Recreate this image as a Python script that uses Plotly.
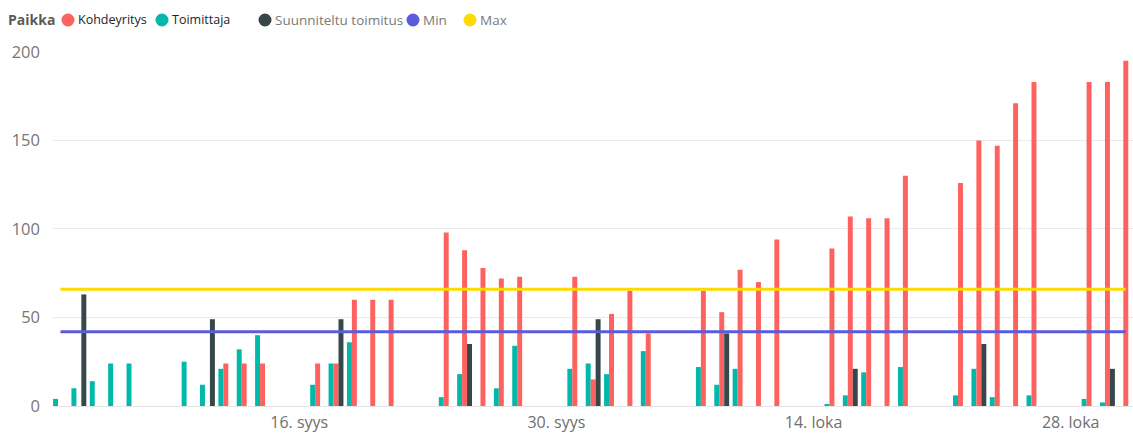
import datetime as dt
import plotly.graph_objects as go

# Working days shown on the axis
DATES = [
    "2018-09-03", "2018-09-04", "2018-09-05", "2018-09-06", "2018-09-07",
    "2018-09-10", "2018-09-11", "2018-09-12", "2018-09-13", "2018-09-14",
    "2018-09-17", "2018-09-18", "2018-09-19", "2018-09-20", "2018-09-21",
    "2018-09-24", "2018-09-25", "2018-09-26", "2018-09-27", "2018-09-28",
    "2018-10-01", "2018-10-02", "2018-10-03", "2018-10-04", "2018-10-05",
    "2018-10-08", "2018-10-09", "2018-10-10", "2018-10-11", "2018-10-12",
    "2018-10-15", "2018-10-16", "2018-10-17", "2018-10-18", "2018-10-19",
    "2018-10-22", "2018-10-23", "2018-10-24", "2018-10-25", "2018-10-26",
    "2018-10-29", "2018-10-30", "2018-10-31",
]

TOIMITTAJA = [
    4, 10, 14, 24, 24,
    25, 12, 21, 32, 40,
    12, 24, 36, None, None,
    5, 18, None, 10, 34,
    21, 24, 18, None, 31,
    22, 12, 21, None, None,
    1, 6, 19, None, 22,
    6, 21, 5, None, 6,
    4, 2, None,
]

KOHDEYRITYS = [
    None, None, None, None, None,
    None, None, 24, 24, 24,
    24, 24, 60, 60, 60,
    98, 88, 78, 72, 73,
    73, 15, 52, 65, 41,
    65, 53, 77, 70, 94,
    89, 107, 106, 106, 130,
    126, 150, 147, 171, 183,
    183, 183, 195,
]

SUUNNITELTU = [
    None, 63, None, None, None,
    None, 49, None, None, None,
    None, 49, None, None, None,
    None, 35, None, None, None,
    None, 49, None, None, None,
    None, 41, None, None, None,
    None, 21, None, None, None,
    None, 35, None, None, None,
    None, 21, None,
]

MIN_VALUE = 42
MAX_VALUE = 66

TICK_DATES = ["2018-09-16", "2018-09-30", "2018-10-14", "2018-10-28"]
TICK_TEXT = ["16. syys", "30. syys", "14. loka", "28. loka"]

C_KOHDE = "#FD625E"
C_TOIM = "#01B8AA"
C_SUUN = "#374649"
C_MIN = "#5B5BDE"
C_MAX = "#FFDA00"

FONT = "Open Sans, Segoe UI, sans-serif"
W, H = 1133, 433
ML, MR, MT, MB = 53, 0, 51, 27

fig = go.Figure()
fig.add_bar(x=DATES, y=TOIMITTAJA, name="Toimittaja", marker_color=C_TOIM)
fig.add_bar(x=DATES, y=KOHDEYRITYS, name="Kohdeyritys", marker_color=C_KOHDE)
fig.add_bar(x=DATES, y=SUUNNITELTU, name="Suunniteltu toimitus", marker_color=C_SUUN)
fig.add_scatter(x=DATES, y=[MIN_VALUE] * len(DATES), name="Min", mode="lines",
                line=dict(color=C_MIN, width=3))
fig.add_scatter(x=DATES, y=[MAX_VALUE] * len(DATES), name="Max", mode="lines",
                line=dict(color=C_MAX, width=3))
fig.update_traces(showlegend=False)
fig.update_traces(marker_line_width=0, selector=dict(type="bar"))

first = dt.datetime.fromisoformat(DATES[0])
last = dt.datetime.fromisoformat(DATES[-1])
x_range = [first - dt.timedelta(hours=9.8), last + dt.timedelta(hours=9.4)]

fig.update_layout(
    width=W, height=H,
    margin=dict(l=ML, r=MR, t=MT, b=MB, pad=0),
    paper_bgcolor="white", plot_bgcolor="white",
    barmode="group", bargap=0.19, bargroupgap=0,
    font=dict(family=FONT, size=15, color="#777777"),
    xaxis=dict(type="date", range=x_range, tickvals=TICK_DATES, ticktext=TICK_TEXT,
               showgrid=False, zeroline=False, showline=False, ticks="",
               ticklabelstandoff=5, tickfont=dict(size=16, color="#6f6f6f")),
    yaxis=dict(range=[0, 200.5], tickvals=[0, 50, 100, 150, 200],
               showgrid=True, gridcolor="#EAEAEA", gridwidth=1,
               zeroline=True, zerolinecolor="#E4E4E4", zerolinewidth=1,
               showline=False, ticks="", ticklabelstandoff=12,
               tickfont=dict(size=16.5, color="#777777")),
)

# Legend row drawn above the plot area
plot_w = W - ML - MR
plot_h = H - MT - MB


def px_x(px):
    return (px - ML) / plot_w


def px_y(py):
    return (H - MB - py) / plot_h


legend_y = 20
fig.add_annotation(x=px_x(7), y=px_y(legend_y), xref="paper", yref="paper",
                   text="<b>Paikka</b>", showarrow=False, xanchor="left", yanchor="middle",
                   font=dict(size=14, color="#5a5a5a", family=FONT), borderpad=0)

legend_items = [
    ("Kohdeyritys", C_KOHDE, 68, "#252423", 12.5),
    ("Toimittaja", C_TOIM, 162, "#252423", 12.5),
    ("Suunniteltu toimitus", C_SUUN, 265, "#7a7a7a", 13.5),
    ("Min", C_MIN, 413, "#7a7a7a", 13.5),
    ("Max", C_MAX, 470, "#7a7a7a", 13.5),
]
for label, color, cx, tcolor, fsize in legend_items:
    fig.add_shape(type="circle", xref="paper", yref="paper",
                  xsizemode="pixel", ysizemode="pixel",
                  xanchor=px_x(cx), yanchor=px_y(legend_y),
                  x0=-6.5, x1=6.5, y0=-6.5, y1=6.5,
                  fillcolor=color, line=dict(width=0))
    fig.add_annotation(x=px_x(cx + 9), y=px_y(legend_y), xref="paper", yref="paper",
                       text=label, showarrow=False, xanchor="left", yanchor="middle",
                       font=dict(size=fsize, color=tcolor, family=FONT), borderpad=0)

fig.write_html("out.html")
